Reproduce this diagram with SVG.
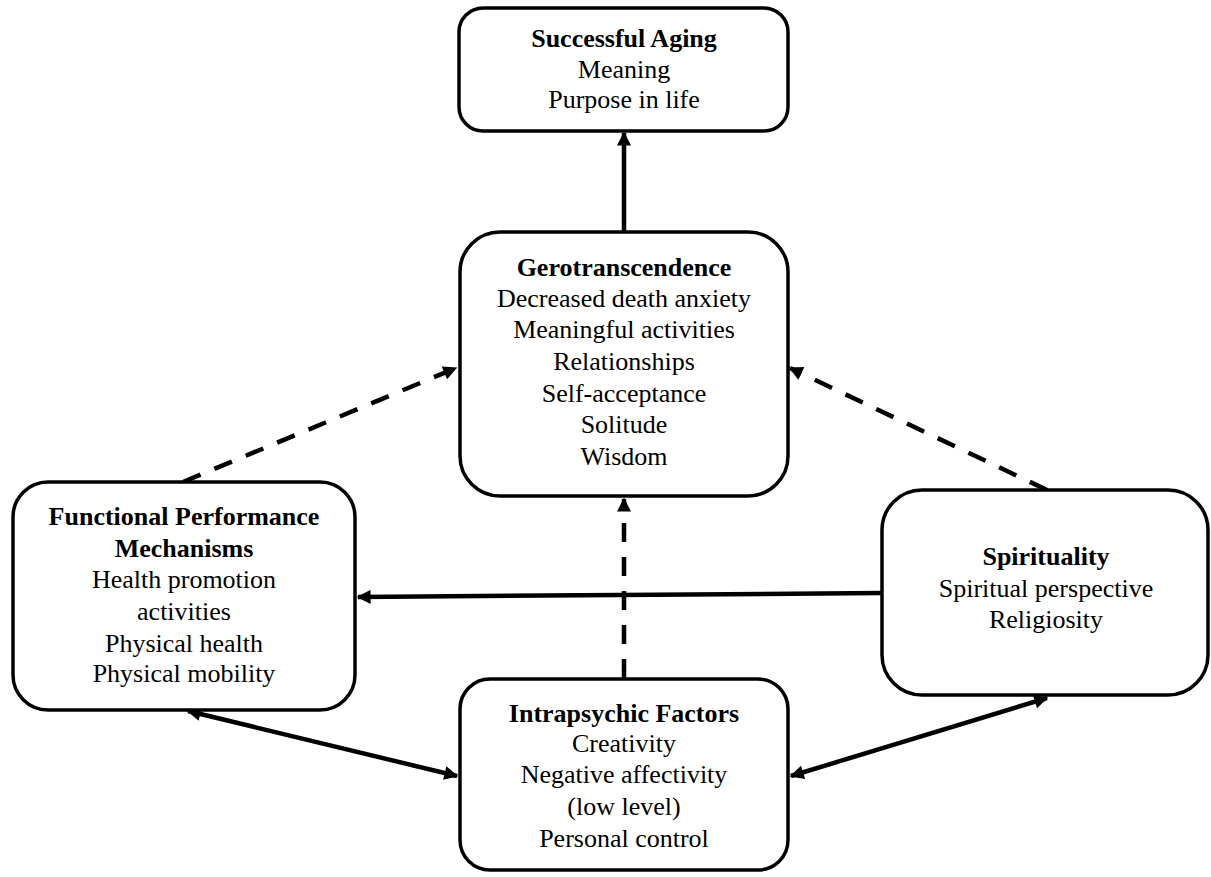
<svg xmlns="http://www.w3.org/2000/svg" width="1211" height="877" viewBox="0 0 1211 877">
<style>
.box{fill:#fff;stroke:#000;stroke-width:3.5}
.t{font-family:"Liberation Serif","Times New Roman",serif;font-size:26px;fill:#000;text-anchor:middle}
.b{font-weight:bold}
.c{stroke:#000;stroke-width:4.5;fill:none}
.d{stroke-dasharray:19 15}
</style>
<defs>
<marker id="ah" viewBox="0 0 10 10" refX="9" refY="5" markerWidth="16" markerHeight="14" markerUnits="userSpaceOnUse" orient="auto-start-reverse">
<path d="M0,0 L10,5 L0,10 z" fill="#000"/>
</marker>
</defs>
<rect width="1211" height="877" fill="#fff"/>
<g id="connectors">
<line class="c" x1="624" y1="231" x2="624" y2="133" marker-end="url(#ah)"/>
<line class="c d" x1="183" y1="482" x2="456" y2="368" marker-end="url(#ah)"/>
<line class="c d" x1="1047" y1="490" x2="790" y2="368" marker-end="url(#ah)"/>
<line class="c d" x1="624" y1="678" x2="624" y2="499" marker-end="url(#ah)"/>
<line class="c" x1="881" y1="593" x2="358" y2="597" marker-end="url(#ah)"/>
<line class="c" x1="188" y1="711" x2="457" y2="776" marker-start="url(#ah)" marker-end="url(#ah)"/>
<line class="c" x1="791" y1="776" x2="1047" y2="698" marker-start="url(#ah)" marker-end="url(#ah)"/>
</g>
<g id="successful-aging">
<rect class="box" x="459" y="8" width="329" height="123" rx="24"/>
<text class="t b" x="624" y="47">Successful Aging</text>
<text class="t" x="624" y="78">Meaning</text>
<text class="t" x="624" y="108">Purpose in life</text>
</g>
<g id="gerotranscendence">
<rect class="box" x="460" y="232" width="328" height="264" rx="40"/>
<text class="t b" x="624" y="276">Gerotranscendence</text>
<text class="t" x="624" y="307">Decreased death anxiety</text>
<text class="t" x="624" y="338">Meaningful activities</text>
<text class="t" x="624" y="370">Relationships</text>
<text class="t" x="624" y="402">Self-acceptance</text>
<text class="t" x="624" y="433">Solitude</text>
<text class="t" x="624" y="465">Wisdom</text>
</g>
<g id="functional">
<rect class="box" x="13" y="482" width="342" height="228" rx="35"/>
<text class="t b" x="184" y="525">Functional Performance</text>
<text class="t b" x="184" y="557">Mechanisms</text>
<text class="t" x="184" y="588">Health promotion</text>
<text class="t" x="184" y="620">activities</text>
<text class="t" x="184" y="652">Physical health</text>
<text class="t" x="184" y="682">Physical mobility</text>
</g>
<g id="spirituality">
<rect class="box" x="882" y="490" width="326" height="205" rx="40"/>
<text class="t b" x="1046" y="565">Spirituality</text>
<text class="t" x="1046" y="597">Spiritual perspective</text>
<text class="t" x="1046" y="628">Religiosity</text>
</g>
<g id="intrapsychic">
<rect class="box" x="460" y="679" width="328" height="191" rx="30"/>
<text class="t b" x="624" y="722">Intrapsychic Factors</text>
<text class="t" x="624" y="752">Creativity</text>
<text class="t" x="624" y="783">Negative affectivity</text>
<text class="t" x="624" y="815">(low level)</text>
<text class="t" x="624" y="847">Personal control</text>
</g>
</svg>
